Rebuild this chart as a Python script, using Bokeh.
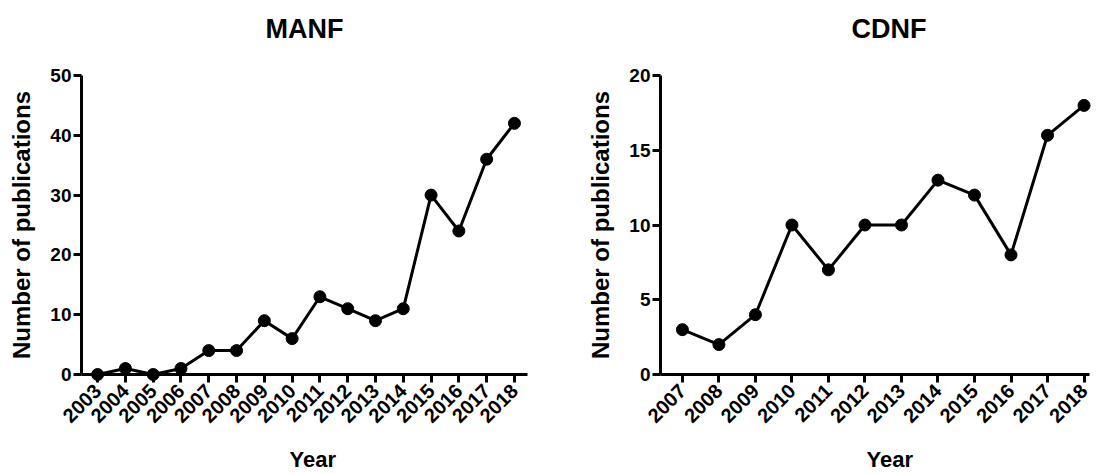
import math
from bokeh.plotting import figure
from bokeh.layouts import row
from bokeh.models import FixedTicker, Range1d, Title
from bokeh.embed import file_html
from bokeh.resources import INLINE

# ---- data ----
manf_years = [2003, 2004, 2005, 2006, 2007, 2008, 2009, 2010,
              2011, 2012, 2013, 2014, 2015, 2016, 2017, 2018]
manf_counts = [0, 1, 0, 1, 4, 4, 9, 6, 13, 11, 9, 11, 30, 24, 36, 42]
manf_yticks = [0, 10, 20, 30, 40, 50]

cdnf_years = [2007, 2008, 2009, 2010, 2011, 2012,
              2013, 2014, 2015, 2016, 2017, 2018]
cdnf_counts = [3, 2, 4, 10, 7, 10, 10, 13, 12, 8, 16, 18]
cdnf_yticks = [0, 5, 10, 15, 20]

FONT = "Liberation Sans"


def make_panel(title, years, counts, yticks, x_start, x_end, frame_w, left, right,
               title_align="center", title_offset=0, xlabel_offset=0):
    ymax = yticks[-1]
    p = figure(frame_width=frame_w, frame_height=299,
               x_range=Range1d(x_start, x_end), y_range=Range1d(0, ymax),
               output_backend="svg", toolbar_location=None,
               min_border_left=left, min_border_right=right,
               min_border_top=75, min_border_bottom=98)
    # spacer title (nearest the frame) then the real title above it
    p.add_layout(Title(text=" ", text_font_size="20px", standoff=6), "above")
    p.add_layout(Title(text=title, text_font=FONT, text_font_size="27px",
                       text_font_style="bold", text_color="black",
                       align=title_align, offset=title_offset, standoff=4), "above")

    p.grid.visible = False
    p.outline_line_color = None
    p.background_fill_color = "white"
    p.border_fill_color = "white"

    for ax in (p.xaxis[0], p.yaxis[0]):
        ax.axis_line_width = 3
        ax.axis_line_color = "black"
        ax.major_tick_line_width = 3
        ax.major_tick_line_color = "black"
        ax.major_tick_in = 0
        ax.major_tick_out = 8
        ax.minor_tick_line_color = None
        ax.major_label_text_font = FONT
        ax.major_label_text_font_style = "bold"
        ax.major_label_text_color = "black"
        ax.axis_label_text_font = FONT
        ax.axis_label_text_font_style = "bold"
        ax.axis_label_text_color = "black"

    p.yaxis.ticker = FixedTicker(ticks=yticks)
    p.yaxis.major_label_standoff = 2
    p.yaxis.major_label_text_font_size = "19px"
    p.yaxis.axis_label = "Number of publications"
    p.yaxis.axis_label_text_font_size = "24px"
    p.yaxis.axis_label_standoff = 12

    p.xaxis.ticker = FixedTicker(ticks=years)
    p.xaxis.major_label_standoff = 5
    p.xaxis.major_label_text_font_size = "20px"
    p.xaxis.major_label_orientation = math.pi / 4

    # x-axis title placed below the tick labels (spacer, then the text)
    p.add_layout(Title(text=" ", text_font_size="10px", standoff=0), "below")
    p.add_layout(Title(text="Year", text_font=FONT, text_font_size="22px",
                       text_font_style="bold", text_color="black",
                       align="left", offset=xlabel_offset, standoff=1), "below")

    p.line(years, counts, line_width=3, line_color="black", level="overlay")
    p.scatter(years, counts, size=12, fill_color="black", line_color="black",
              level="overlay")
    return p


p1 = make_panel("MANF", manf_years, manf_counts, manf_yticks,
                2002.42, 2018.47, 446, 81, 23, xlabel_offset=208)
p2 = make_panel("CDNF", cdnf_years, cdnf_counts, cdnf_yticks,
                2006.40, 2018.15, 429, 110, 8,
                title_align="left", title_offset=191, xlabel_offset=206)

layout = row(p1, p2)
open("out.html", "w").write(file_html(layout, INLINE))
